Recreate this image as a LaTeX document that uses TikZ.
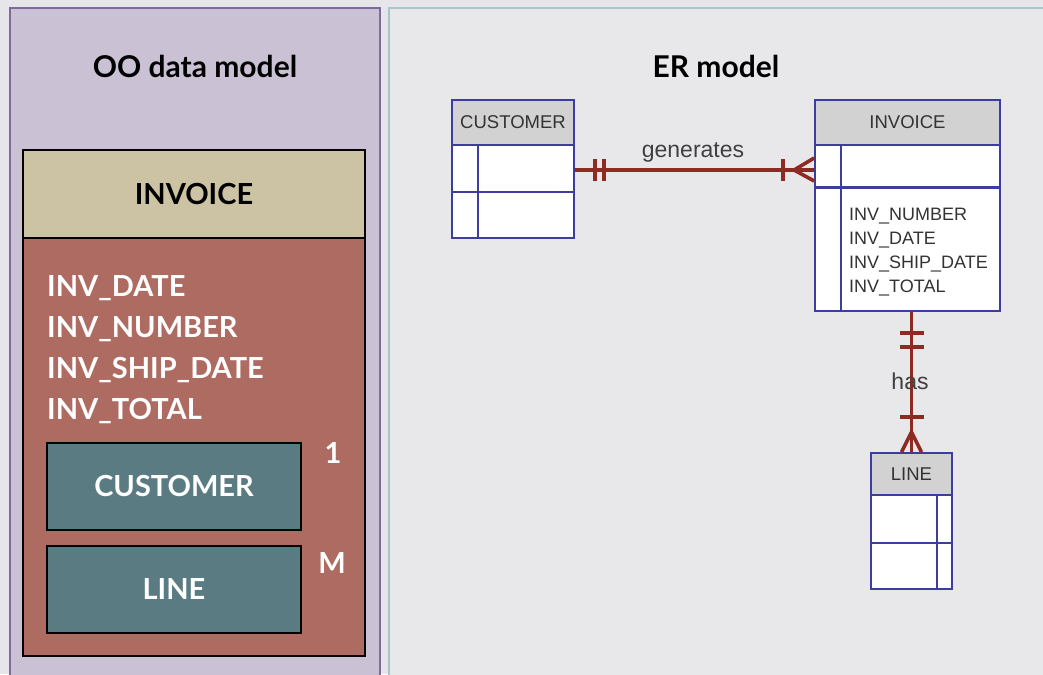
\documentclass[tikz,border=0pt]{standalone}
\usepackage{fontspec}
\setmainfont{Lato}
\newfontfamily\arialf{Liberation Sans}
\definecolor{bgc}{HTML}{E6E5EA}
\definecolor{lpanel}{HTML}{CAC1D4}
\definecolor{lborder}{HTML}{7F6B9A}
\definecolor{rpanel}{HTML}{E8E8EB}
\definecolor{rborder}{HTML}{A8C5CE}
\definecolor{tan}{HTML}{CBC3A3}
\definecolor{redbody}{HTML}{AE6B61}
\definecolor{teal}{HTML}{5B7B83}
\definecolor{hdrgray}{HTML}{D2D2D2}
\definecolor{erblue}{HTML}{3D3DA0}
\definecolor{relred}{HTML}{8E2A22}
\tikzset{
  oobox/.style={draw=black, line width=2pt, inner sep=0pt},
  erbox/.style={draw=erblue, line width=1.8pt, inner sep=0pt, fill=white},
  erhdr/.style={erbox, fill=hdrgray, font=\arialf\fontsize{18.5}{22}\selectfont, text=black!80},
  rel/.style={draw=relred, line width=3.5pt},
  relthin/.style={draw=relred, line width=3.6pt},
  ootitle/.style={font=\fontsize{30}{36}\selectfont\bfseries},
  ootext/.style={font=\fontsize{29}{34}\selectfont\bfseries, text=white},
  erlabel/.style={font=\arialf\fontsize{23}{26}\selectfont, text=black!75},
}
\begin{document}
\begin{tikzpicture}[x=1pt,y=-1pt]
\useasboundingbox (0,0) rectangle (1043,674);
\fill[bgc] (0,0) rectangle (1043,674);
\draw[fill=lpanel, draw=lborder, line width=2pt] (10,8) rectangle (380,690);
\draw[fill=rpanel, draw=rborder, line width=1.5pt] (389,8) rectangle (1060,690);

% OO side
\node[ootitle] (ootitle) at (195,66) {OO data model};
\node[oobox, fill=redbody, minimum width=342pt, minimum height=418pt] (oobody) at (194,447) {};
\node[oobox, fill=tan, minimum width=342pt, minimum height=88pt, font=\fontsize{29}{34}\selectfont\bfseries] (oohdr) at (194,194) {INVOICE};
\node[ootext, anchor=west, inner sep=0pt] (a1) at (47,288) {INV\_DATE};
\node[ootext, anchor=west, inner sep=0pt] (a2) at (47,329) {INV\_NUMBER};
\node[ootext, anchor=west, inner sep=0pt] (a3) at (47,370) {INV\_SHIP\_DATE};
\node[ootext, anchor=west, inner sep=0pt] (a4) at (47,411) {INV\_TOTAL};
\node[oobox, fill=teal, minimum width=254pt, minimum height=87pt, ootext] (oocust) at (174,486.5) {CUSTOMER};
\node[oobox, fill=teal, minimum width=254pt, minimum height=87pt, ootext] (ooline) at (174,589.5) {LINE};
\node[ootext] (one) at (333,453) {1};
\node[ootext] (m) at (332,563) {M};

% ER side
\node[ootitle] (ertitle) at (716,66) {ER model};

% CUSTOMER entity
\node[erhdr, minimum width=122pt, minimum height=45pt] (custh) at (513,122.5) {CUSTOMER};
\node[erbox, minimum width=122pt, minimum height=47pt] (custr1) at (513,168.5) {};
\node[erbox, minimum width=122pt, minimum height=46pt] (custr2) at (513,215) {};
\draw[erblue, line width=1.8pt] (custr1.north -| 478,0) -- (custr2.south -| 478,0);

% INVOICE entity
\node[erhdr, minimum width=185pt, minimum height=45pt] (invh) at (907.5,122.5) {INVOICE};
\node[erbox, minimum width=185pt, minimum height=42pt] (invr1) at (907.5,166) {};
\node[erbox, minimum width=185pt, minimum height=123pt, anchor=north] (invr2) at (907.5,187) {};
\draw[erblue, line width=1.8pt] (invr1.north -| 841,0) -- (invr2.south -| 841,0);
\node[anchor=north west, align=left, inner sep=0pt, font=\arialf\fontsize{18}{24}\selectfont, text=black!80] (invattr) at (849,208) {INV\_NUMBER\\INV\_DATE\\INV\_SHIP\_DATE\\INV\_TOTAL};

% LINE entity
\node[erhdr, minimum width=81pt, minimum height=42pt] (lineh) at (911.5,474) {LINE};
\node[erbox, minimum width=81pt, minimum height=48pt] (liner1) at (911.5,519) {};
\node[erbox, minimum width=81pt, minimum height=46pt] (liner2) at (911.5,566) {};
\draw[erblue, line width=1.8pt] (liner1.north -| 937,0) -- (liner2.south -| 937,0);

% generates relationship
\coordinate (gA) at (custr1.east |- 0,170);
\coordinate (gB) at (invr1.west |- 0,170);
\draw[rel] (gA) -- (gB);
\draw[relthin] ([xshift=20pt,yshift=-11pt]gA) -- ([xshift=20pt,yshift=11pt]gA);
\draw[relthin] ([xshift=29pt,yshift=-11pt]gA) -- ([xshift=29pt,yshift=11pt]gA);
\draw[relthin] ([xshift=-31pt,yshift=-11pt]gB) -- ([xshift=-31pt,yshift=11pt]gB);
\draw[relthin] ([xshift=-20pt]gB) -- ([yshift=-11pt]gB);
\draw[relthin] ([xshift=-20pt]gB) -- ([yshift=12pt]gB);
\node[erlabel] (gen) at (693,152) {generates};

% has relationship
\coordinate (hA) at (lineh.north |- invr2.south);
\coordinate (hB) at (lineh.north);
\draw[rel] (hA) -- (hB);
\draw[relthin] ([xshift=-12pt,yshift=-21pt]hA) -- ([xshift=12pt,yshift=-21pt]hA);
\draw[relthin] ([xshift=-12pt,yshift=-35pt]hA) -- ([xshift=12pt,yshift=-35pt]hA);
\draw[relthin] ([xshift=-12pt,yshift=35pt]hB) -- ([xshift=12pt,yshift=35pt]hB);
\draw[relthin] ([yshift=20pt]hB) -- ([xshift=-10pt]hB);
\draw[relthin] ([yshift=20pt]hB) -- ([xshift=10pt]hB);
\node[erlabel] (has) at (910,381) {has};
\end{tikzpicture}
\end{document}
